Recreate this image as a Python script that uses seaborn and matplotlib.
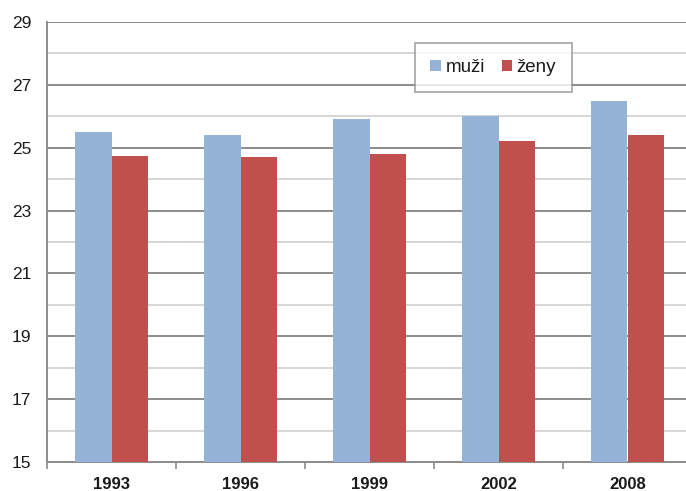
import matplotlib
matplotlib.use("Agg")
import matplotlib.pyplot as plt
import seaborn as sns
import pandas as pd
from matplotlib.ticker import FixedLocator

years = ["1993", "1996", "1999", "2002", "2008"]
muzi = [25.5, 25.4, 25.9, 26.0, 26.5]
zeny = [24.75, 24.72, 24.8, 25.2, 25.4]
series = ["muži", "ženy"]
colors = ["#95B3D7", "#C0504D"]
y_major = [15, 17, 19, 21, 23, 25, 27, 29]
y_minor = [16, 18, 20, 22, 24, 26, 28]

df = pd.DataFrame({
    "rok": years * 2,
    "hodnota": muzi + zeny,
    "pohlaví": [series[0]] * len(years) + [series[1]] * len(years),
})

sns.set_theme(style="white")
plt.rcParams["font.family"] = ["Liberation Sans", "DejaVu Sans"]

fig = plt.figure(figsize=(6.86, 4.91), dpi=100)
W, H = 686, 491
ax = fig.add_axes([47 / W, (H - 462) / H, (692 - 47) / W, (462 - 22) / H])

sns.barplot(data=df, x="rok", y="hodnota", hue="pohlaví", palette=colors,
            width=0.57, ax=ax, saturation=1, edgecolor="none", zorder=3)

ax.set_ylim(15, 29)
ax.yaxis.set_major_locator(FixedLocator(y_major))
ax.yaxis.set_minor_locator(FixedLocator(y_minor))
ax.grid(which="major", axis="y", color="#8c8c8c", linewidth=1.4, zorder=0)
ax.grid(which="minor", axis="y", color="#cfcfcf", linewidth=1.2, zorder=0)
ax.set_axisbelow(True)

for s in ["top", "right"]:
    ax.spines[s].set_visible(False)
for s in ["left", "bottom"]:
    ax.spines[s].set_color("#8c8c8c")
    ax.spines[s].set_linewidth(1.4)

ax.set_xlabel("")
ax.set_ylabel("")
ax.set_xlim(-0.5, len(years) - 0.5)
ax.set_xticks(range(len(years)))
ax.set_xticklabels(years, fontsize=12, fontweight="bold", color="#1a1a1a")
ax.tick_params(axis="x", which="major", length=0, pad=11)
ax.set_xticks([i + 0.5 for i in range(-1, len(years))], minor=True)
ax.tick_params(axis="x", which="minor", length=5, width=1.2, color="#8c8c8c",
               direction="out", bottom=True)
ax.tick_params(axis="y", which="both", length=0, labelsize=12.5, pad=11.5,
               labelcolor="#1a1a1a")

leg = ax.legend(loc="center", bbox_to_anchor=(0.692, 0.897), ncol=2, fontsize=13.5,
                frameon=True, fancybox=False, handlelength=0.55, handleheight=0.55,
                handletextpad=0.25, columnspacing=0.9, borderpad=0.85)
leg.get_frame().set_edgecolor("#8c8c8c")
leg.get_frame().set_linewidth(1.2)
leg.set_title(None)
for t in leg.get_texts():
    t.set_color("#1a1a1a")

fig.savefig("out.png", dpi=100)
